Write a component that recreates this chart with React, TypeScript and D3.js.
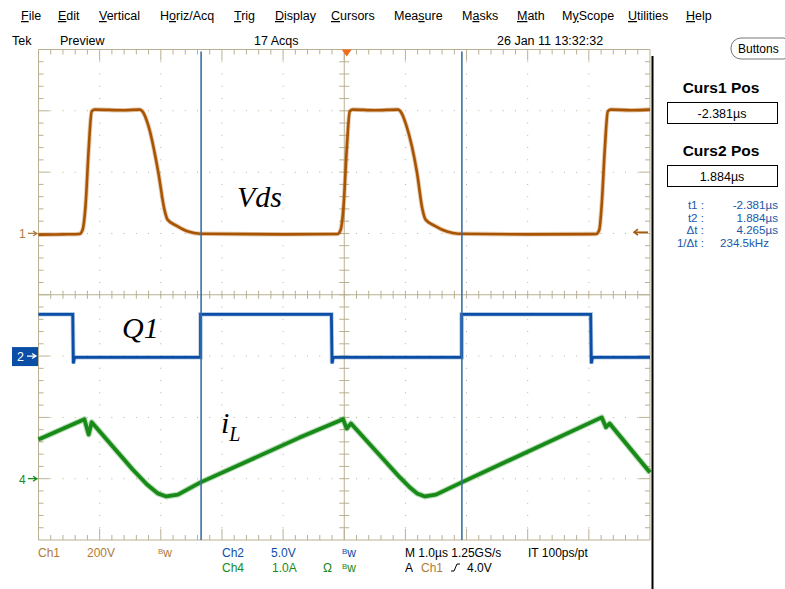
import React from "react";
import * as d3 from "d3";

// ---------- data (time in µs on graticule, values in channel units) ----------
const vdsTime = [-5.0, -4.6, -4.33, -4.28, -4.23, -4.18, -4.13, -4.08, -3.6, -3.35, -3.3, -3.2, -3.04, -2.94, -2.89, -2.74, -2.55, -2.36, -1.0, -0.11, -0.06, -0.01, 0.04, 0.09, 0.14, 0.5, 0.88, 0.92, 1.02, 1.19, 1.28, 1.33, 1.48, 1.68, 1.86, 3.0, 4.12, 4.17, 4.21, 4.26, 4.31, 4.36, 4.7, 5.0];
const vdsVolts = [-4, -3, -2, 11, 93, 273, 398, 404, 402, 404, 398, 349, 198, 77, 45, 25, 6, -1, -3, -2, 11, 93, 273, 398, 404, 402, 404, 398, 349, 198, 77, 45, 25, 6, -1, -3, -2, 11, 93, 273, 398, 404, 402, 404];

const q1Time = [-5, -4.44, -4.43, -4.41, -2.35, -2.35, -0.21, -0.2, -0.18, 1.92, 1.92, 4.03, 4.04, 4.06, 5];
const q1Volts = [3.4, 3.4, -0.6, -0.1, -0.1, 3.4, 3.4, -0.6, -0.1, -0.1, 3.4, 3.4, -0.6, -0.1, -0.1];

const iLTime = [-5.0, -4.25, -4.18, -4.13, -3.46, -3.23, -3.05, -2.91, -2.72, -2.35, -0.73, -0.02, 0.04, 0.11, 0.91, 1.07, 1.19, 1.32, 1.5, 1.92, 4.21, 4.28, 4.34, 4.43, 5.0];
const iLAmps = [0.64, 0.97, 0.72, 0.92, 0.15, -0.09, -0.24, -0.29, -0.26, -0.06, 0.67, 0.97, 0.82, 0.9, 0.02, -0.14, -0.24, -0.29, -0.26, -0.06, 1.0, 0.84, 0.9, 0.79, 0.1];

const cursorTimes = [-2.381, 1.884];
const triggerOffset = 0.04; // trigger point relative to graticule centre, µs

const menuItems = ["File", "Edit", "Vertical", "Horiz/Acq", "Trig", "Display", "Cursors", "Measure", "Masks", "Math", "MyScope", "Utilities", "Help"];
const menuUnderline = [0, 0, 0, 1, 0, 0, 0, 3, 1, 0, 1, 0, 0];
const menuX = [21, 58, 99, 160, 234, 275, 331, 394, 462, 517, 562, 628, 686];

const readoutLabels = ["t1 :", "t2 :", "Δt :", "1/Δt :"];
const readoutValues = ["-2.381µs", "1.884µs", "4.265µs", "234.5kHz"];

const ch1Scale = 200, ch1Pos = 1;
const ch2Scale = 5, ch2Pos = -1;
const ch4Scale = 1, ch4Pos = -3;

const W = 785, H = 589;
const GRID = "#b9b092";
const C1 = "#a85400";
const C1T = "#b07a38";
const C2 = "#0b4ea6";
const C4 = "#178a17";
const CUR = "#3a6fa3";
const BLUE_TXT = "#2058a8";

export default function App() {
  const x = d3.scaleLinear().domain([-5, 5]).range([38.5, 650]);
  const yDiv = d3.scaleLinear().domain([-4, 4]).range([540, 49.5]);
  const y1 = (v: number) => yDiv(ch1Pos + v / ch1Scale);
  const y2 = (v: number) => yDiv(ch2Pos + v / ch2Scale);
  const y4 = (v: number) => yDiv(ch4Pos + v / ch4Scale);

  const vdsPts = vdsTime.map((t, i) => [t, vdsVolts[i]] as [number, number]);
  const q1Pts = q1Time.map((t, i) => [t, q1Volts[i]] as [number, number]);
  const iLPts = iLTime.map((t, i) => [t, iLAmps[i]] as [number, number]);

  const vdsPath = d3.line<[number, number]>().x(d => x(d[0])).y(d => y1(d[1])).curve(d3.curveMonotoneX)(vdsPts) || "";
  const q1Path = d3.line<[number, number]>().x(d => x(d[0])).y(d => y2(d[1]))(q1Pts) || "";
  const iLPath = d3.line<[number, number]>().x(d => x(d[0])).y(d => y4(d[1]))(iLPts) || "";

  const x0 = x.range()[0], x1 = x.range()[1];
  const yT = yDiv.range()[1], yB = yDiv.range()[0];
  const xc = x(0), yc = yDiv(0);

  const minorX = d3.range(1, 50).map(i => ({ p: x(-5 + i * 0.2), major: i % 5 === 0 }));
  const minorY = d3.range(1, 40).map(j => ({ p: yDiv(-4 + j * 0.2), major: j % 5 === 0 }));

  // dotted major grid
  let dots = "";
  for (let k = -4; k <= 4; k++) {
    if (k === 0) continue;
    const gx = x(k);
    minorY.forEach(m => { dots += `M${gx - 0.5},${m.p - 0.5}h1v1h-1z`; });
  }
  for (let k = -3; k <= 3; k++) {
    if (k === 0) continue;
    const gy = yDiv(k);
    minorX.forEach(m => { dots += `M${m.p - 0.5},${gy - 0.5}h1v1h-1z`; });
  }

  const uiFont = "'Liberation Sans', Arial, sans-serif";
  const serif = "'Liberation Serif', 'Times New Roman', serif";

  const trigX = x(triggerOffset);
  const valueEnds = [778, 778, 778, 769];

  return (
    <svg width={W} height={H} style={{ position: "absolute", left: 0, top: 0, background: "#fff" }} fontFamily={uiFont}>
      <rect x={0} y={0} width={W} height={H} fill="#fff" />
      {/* menu bar */}
      {menuItems.map((m, i) => {
        const u = menuUnderline[i];
        return (
          <text key={m} x={menuX[i]} y={20} fontSize={12.5} fill="#000">
            {m.slice(0, u)}
            <tspan textDecoration="underline">{m[u]}</tspan>
            {m.slice(u + 1)}
          </text>
        );
      })}
      <text x={12} y={45} fontSize={12.5}>Tek</text>
      <text x={60} y={45} fontSize={12.5}>Preview</text>
      <text x={254} y={45} fontSize={12.5}>17 Acqs</text>
      <text x={497} y={45} fontSize={12.5}>26 Jan 11 13:32:32</text>

      {/* graticule */}
      <path d={dots} fill={GRID} />
      <g stroke={GRID} strokeWidth={1} fill="none">
        <line x1={x0} x2={x1} y1={yT} y2={yT} />
        <line x1={x0} x2={x1} y1={yB} y2={yB} />
        <line x1={x0} x2={x0} y1={yT} y2={yB} />
        <line x1={x1} x2={x1} y1={yT} y2={yB} />
        <line x1={xc} x2={xc} y1={yT} y2={yB} />
        <line x1={x0} x2={x1} y1={yc} y2={yc} />
        {minorX.map((m, i) => (
          <g key={"tx" + i}>
            <line x1={m.p} x2={m.p} y1={yT} y2={yT + (m.major ? 11 : 5)} />
            <line x1={m.p} x2={m.p} y1={yB} y2={yB - (m.major ? 11 : 5)} />
            <line x1={m.p} x2={m.p} y1={yc - 4} y2={yc + 4} />
          </g>
        ))}
        {minorY.map((m, i) => (
          <g key={"ty" + i}>
            <line y1={m.p} y2={m.p} x1={x0} x2={x0 + (m.major ? 11 : 5)} />
            <line y1={m.p} y2={m.p} x1={x1} x2={x1 - (m.major ? 11 : 5)} />
            <line y1={m.p} y2={m.p} x1={xc - 5} x2={xc + 5} />
          </g>
        ))}
      </g>

      {/* traces */}
      <path d={vdsPath} fill="none" stroke={C1} strokeWidth={4.5} strokeOpacity={0.3} strokeLinejoin="round" />
      <path d={vdsPath} fill="none" stroke={C1} strokeWidth={2.6} strokeLinejoin="round" />
      <path d={q1Path} fill="none" stroke={C2} strokeWidth={4.5} strokeOpacity={0.3} />
      <path d={q1Path} fill="none" stroke={C2} strokeWidth={2.8} />
      <path d={iLPath} fill="none" stroke={C4} strokeWidth={6} strokeOpacity={0.3} strokeLinejoin="round" />
      <path d={iLPath} fill="none" stroke={C4} strokeWidth={3.8} strokeLinejoin="round" />

      {/* cursors */}
      {cursorTimes.map((t, i) => (
        <line key={"c" + i} x1={x(t + triggerOffset)} x2={x(t + triggerOffset)} y1={yT + 2} y2={yB} stroke={CUR} strokeWidth={1.6} />
      ))}

      {/* trigger position marker */}
      <path d={`M${trigX - 5},${yT} L${trigX + 5},${yT} L${trigX},${yT + 7} Z`} fill="#f26a1b" />
      {/* trigger level arrow (right) */}
      <g stroke={C1} strokeWidth={1.5} fill="none">
        <line x1={x1 - 2} x2={x1 - 16} y1={y1(4)} y2={y1(4)} />
        <path d={`M${x1 - 12},${y1(4) - 3} L${x1 - 16},${y1(4)} L${x1 - 12},${y1(4) + 3}`} />
      </g>

      {/* channel reference markers */}
      <text x={19} y={y1(0) + 4.5} fontSize={12} fill={C1T}>1</text>
      <path d={`M28,${y1(0)} H36 M33,${y1(0) - 2.5} L37,${y1(0)} L33,${y1(0) + 2.5}`} stroke={C1T} strokeWidth={1.3} fill="none" />
      <rect x={12} y={y2(0) - 9} width={26} height={19} fill={C2} />
      <text x={17} y={y2(0) + 5} fontSize={12.5} fill="#fff">2</text>
      <path d={`M27,${y2(0)} H35 M32,${y2(0) - 2.5} L36,${y2(0)} L32,${y2(0) + 2.5}`} stroke="#fff" strokeWidth={1.3} fill="none" />
      <text x={19} y={y4(0) + 5} fontSize={12} fill={C4}>4</text>
      <path d={`M28,${y4(0)} H36 M33,${y4(0) - 2.5} L37,${y4(0)} L33,${y4(0) + 2.5}`} stroke={C4} strokeWidth={1.3} fill="none" />

      {/* annotations */}
      <text x={237} y={207} fontSize={30} fontStyle="italic" fontFamily={serif} fill="#000">Vds</text>
      <text x={122} y={338} fontSize={30} fontStyle="italic" fontFamily={serif} fill="#000">Q1</text>
      <text x={221} y={433} fontSize={30} fontStyle="italic" fontFamily={serif} fill="#000">i<tspan fontSize={20} dy={8}>L</tspan></text>

      {/* right panel */}
      <line x1={652.5} x2={652.5} y1={56} y2={H} stroke="#000" strokeWidth={2} />
      <rect x={731} y={38} width={62} height={21} rx={10} fill="#fff" stroke="#777" strokeWidth={1} />
      <text x={738} y={53} fontSize={12}>Buttons</text>
      <text x={721} y={93} fontSize={15.5} fontWeight="bold" textAnchor="middle">Curs1 Pos</text>
      <rect x={667.5} y={102.5} width={110} height={21} fill="#fff" stroke="#000" />
      <text x={722} y={118} fontSize={12.5} textAnchor="middle">-2.381µs</text>
      <text x={721} y={156} fontSize={15.5} fontWeight="bold" textAnchor="middle">Curs2 Pos</text>
      <rect x={667.5} y={165.5} width={110} height={21} fill="#fff" stroke="#000" />
      <text x={722} y={181} fontSize={12.5} textAnchor="middle">1.884µs</text>
      {readoutLabels.map((l, i) => (
        <g key={l} fontSize={11.6} fill={BLUE_TXT}>
          <text x={704} y={209 + i * 12.5} textAnchor="end">{l}</text>
          <text x={valueEnds[i]} y={209 + i * 12.5} textAnchor="end">{readoutValues[i]}</text>
        </g>
      ))}

      {/* bottom status */}
      <g fontSize={12}>
        <text x={38} y={557} fill={C1T}>Ch1</text>
        <text x={87} y={557} fill={C1T}>200V</text>
        <text x={158} y={557} fill={C1T}><tspan fontSize={8} dy={-3}>B</tspan><tspan dy={3}>w</tspan></text>
        <text x={222} y={557} fill={C2}>Ch2</text>
        <text x={271} y={557} fill={C2}>5.0V</text>
        <text x={342} y={557} fill={C2}><tspan fontSize={8} dy={-3}>B</tspan><tspan dy={3}>w</tspan></text>
        <text x={222} y={572} fill={C4}>Ch4</text>
        <text x={272} y={572} fill={C4}>1.0A</text>
        <text x={323} y={572} fill={C4}>Ω</text>
        <text x={342} y={572} fill={C4}><tspan fontSize={8} dy={-3}>B</tspan><tspan dy={3}>w</tspan></text>
        <text x={405} y={557} fill="#000">M 1.0µs 1.25GS/s</text>
        <text x={528} y={557} fill="#000">IT 100ps/pt</text>
        <text x={405} y={572} fill="#000">A</text>
        <text x={421} y={572} fill={C1T}>Ch1</text>
        <path d="M451,571 L454,571 L457,564 L460,564" stroke="#000" strokeWidth={1} fill="none" />
        <text x={467} y={572} fill="#000">4.0V</text>
      </g>
    </svg>
  );
}
